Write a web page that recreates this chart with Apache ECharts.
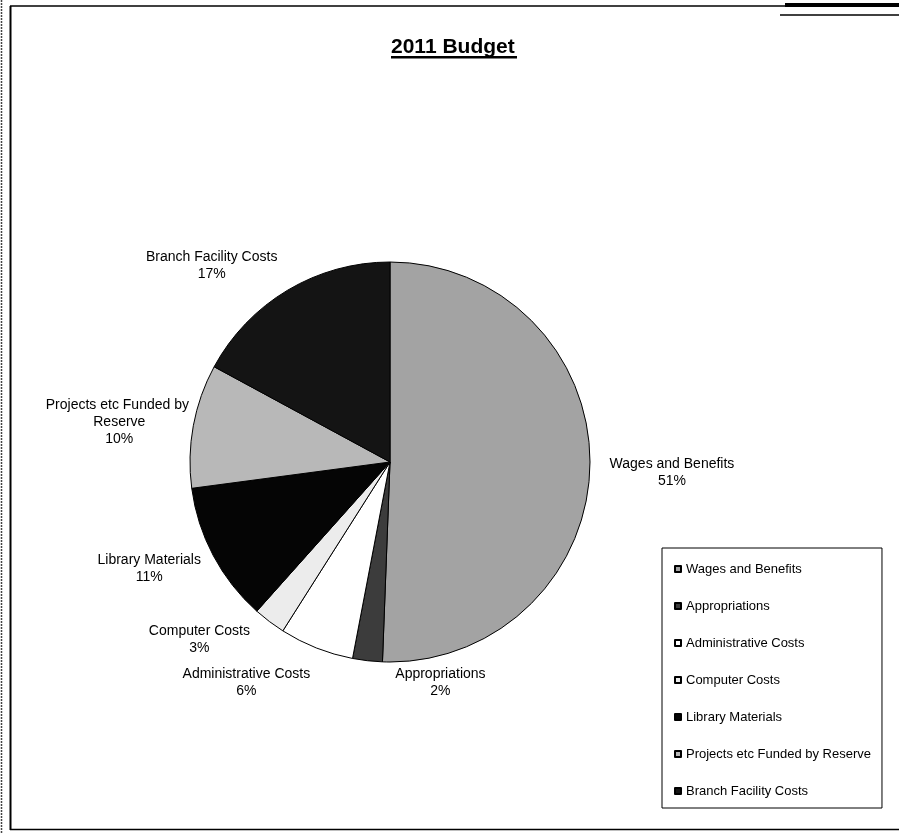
<!DOCTYPE html>
<html>
<head>
<meta charset="utf-8">
<script src="https://cdn.jsdelivr.net/npm/echarts@6/dist/echarts.min.js"></script>
<style>
html,body{margin:0;padding:0;background:#fff;}
#chart{width:899px;height:833px;}
</style>
</head>
<body>
<div id="chart"></div>
<script>
// ---- data ----
const categories = ['Wages and Benefits', 'Appropriations', 'Administrative Costs', 'Computer Costs', 'Library Materials', 'Projects etc Funded by Reserve', 'Branch Facility Costs'];
const values = [50.6, 2.4, 6.0, 2.6, 11.3, 10.0, 17.1];
const titleText = '2011 Budget';

// ---- style / layout ----
const sliceColors = ['#a3a3a3', '#3c3c3c', '#ffffff', '#ececec', '#050505', '#b8b8b8', '#141414'];
const labelOffsets = [[82, 7], [73, 22], [-70, 35], [-70, 18], [-64, 13], [-74, -4], [-76, -25]];
const FONT = '"Liberation Sans", Arial, sans-serif';
const CX = 390, CY = 462, R = 200;

const total = values.reduce((a, b) => a + b, 0);
function midAngle(i) {
  let cum = 0;
  for (let k = 0; k < i; k++) cum += values[k];
  cum += values[i] / 2;
  return cum / total * Math.PI * 2;
}

const chart = echarts.init(document.getElementById('chart'), null, {renderer: 'canvas'});
chart.setOption({
  animation: false,
  backgroundColor: '#fff',
  title: {
    text: titleText,
    left: 391,
    top: 37,
    padding: 0,
    textStyle: {fontFamily: FONT, fontSize: 21, fontWeight: 'bold', color: '#000'}
  },
  legend: {
    orient: 'vertical',
    left: 662,
    top: 548,
    padding: [14, 11, 10, 12],
    itemGap: 23,
    itemWidth: 6,
    itemHeight: 6,
    icon: 'rect',
    borderColor: '#000',
    borderWidth: 1,
    selectedMode: false,
    textStyle: {fontFamily: FONT, fontSize: 13, color: '#000', lineHeight: 14},
    data: categories
  },
  graphic: [
    {type: 'rect', shape: {x: 391, y: 56, width: 126, height: 2.5}, style: {fill: '#000'}, silent: true},
    {type: 'line', shape: {x1: 10.5, y1: 6, x2: 10.5, y2: 830}, style: {stroke: '#000', lineWidth: 2}, silent: true},
    {type: 'line', shape: {x1: 10, y1: 6, x2: 899, y2: 6}, style: {stroke: '#000', lineWidth: 1.5}, silent: true},
    {type: 'line', shape: {x1: 10, y1: 829.5, x2: 899, y2: 829.5}, style: {stroke: '#000', lineWidth: 1.5}, silent: true},
    {type: 'line', shape: {x1: 1.5, y1: 0, x2: 1.5, y2: 833}, style: {stroke: '#444', lineWidth: 1.5, lineDash: [2, 1]}, silent: true},
    {type: 'rect', shape: {x: 785, y: 3, width: 114, height: 4}, style: {fill: '#000'}, silent: true},
    {type: 'line', shape: {x1: 780, y1: 15, x2: 899, y2: 15}, style: {stroke: '#000', lineWidth: 1.5}, silent: true}
  ],
  series: [{
    type: 'pie',
    center: [CX, CY],
    radius: R,
    startAngle: 90,
    clockwise: true,
    percentPrecision: 0,
    avoidLabelOverlap: false,
    emphasis: {disabled: true},
    itemStyle: {borderColor: '#000', borderWidth: 1},
    label: {
      show: true,
      position: 'outside',
      formatter: '{b}\n{d}%',
      fontFamily: FONT,
      fontSize: 14,
      lineHeight: 17,
      color: '#000',
      width: 155,
      overflow: 'break',
      align: 'center'
    },
    labelLine: {show: false},
    labelLayout: function (p) {
      const i = p.dataIndex;
      const a = midAngle(i);
      const px = CX + R * Math.sin(a);
      const py = CY - R * Math.cos(a);
      return {
        x: px + labelOffsets[i][0],
        y: py + labelOffsets[i][1],
        align: 'center',
        verticalAlign: 'middle'
      };
    },
    data: categories.map((n, i) => ({name: n, value: values[i], itemStyle: {color: sliceColors[i]}}))
  }]
});
</script>
</body>
</html>
